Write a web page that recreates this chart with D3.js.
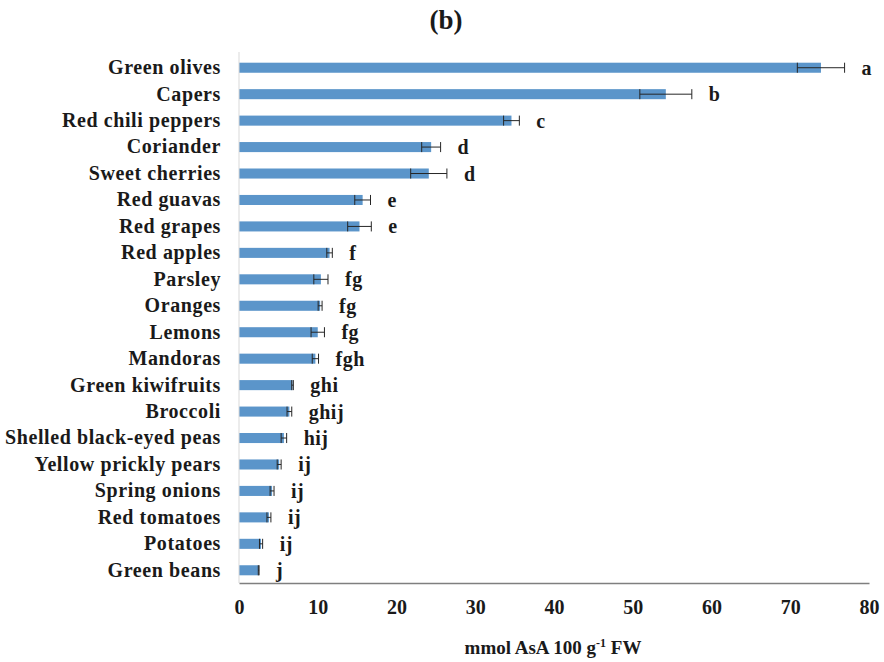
<!DOCTYPE html>
<html>
  <head>
    <meta charset="utf-8">
    <title>AsA content (b)</title>
    <script src="https://d3js.org/d3.v7.min.js"></script>
    <style>
      body { margin: 0; background: #fff; }
      text { font-family: "Liberation Serif", "Times New Roman", serif; font-weight: bold; fill: #1a1a1a; }
    </style>
  </head>
  <body>
    <svg id="chart" width="884" height="662"></svg>
    <script>
      // data
      var foods = ["Green olives", "Capers", "Red chili peppers", "Coriander", "Sweet cherries",
        "Red guavas", "Red grapes", "Red apples", "Parsley", "Oranges", "Lemons", "Mandoras",
        "Green kiwifruits", "Broccoli", "Shelled black-eyed peas", "Yellow prickly pears",
        "Spring onions", "Red tomatoes", "Potatoes", "Green beans"];
      var means = [73.9, 54.2, 34.6, 24.4, 24.1, 15.7, 15.3, 11.5, 10.4, 10.3, 10.0, 9.7,
        6.8, 6.4, 5.7, 5.1, 4.2, 3.8, 2.8, 2.5];
      var errors = [3.0, 3.3, 1.0, 1.2, 2.3, 1.0, 1.5, 0.35, 0.9, 0.25, 0.85, 0.4,
        0.1, 0.3, 0.35, 0.25, 0.25, 0.25, 0.2, 0.05];
      var letters = ["a", "b", "c", "d", "d", "e", "e", "f", "fg", "fg", "fg", "fgh",
        "ghi", "ghij", "hij", "ij", "ij", "ij", "ij", "j"];
      var xTicks = [0, 10, 20, 30, 40, 50, 60, 70, 80];

      var margin = { top: 52, right: 15, bottom: 79, left: 239 };
      var width = 884, height = 662;
      var svg = d3.select("#chart");

      var x = d3.scaleLinear()
        .domain([0, 80])
        .range([margin.left, width - margin.right]);
      var y = d3.scaleBand()
        .domain(foods)
        .range([margin.top + 2.5, height - margin.bottom + 0.5])
        .paddingInner(0.62)
        .paddingOuter(0.31);

      var data = foods.map(function(d, i) {
        return { food: d, mean: means[i], err: errors[i], letter: letters[i] };
      });

      // title
      svg.append("text")
        .attr("x", 446)
        .attr("y", 29)
        .attr("text-anchor", "middle")
        .style("font-size", "27px")
        .text("(b)");

      // bars
      svg.selectAll(".bar")
        .data(data)
        .enter().append("rect")
          .attr("class", "bar")
          .attr("x", x(0))
          .attr("y", function(d) { return y(d.food); })
          .attr("width", function(d) { return x(d.mean) - x(0); })
          .attr("height", y.bandwidth())
          .attr("fill", "#5b95ca");

      // error bars
      var eb = svg.selectAll(".err")
        .data(data)
        .enter().append("g")
          .attr("class", "err")
          .attr("stroke", "#262626")
          .attr("stroke-width", 1);
      eb.append("line")
        .attr("x1", function(d) { return x(d.mean - d.err); })
        .attr("x2", function(d) { return x(d.mean + d.err); })
        .attr("y1", function(d) { return y(d.food) + y.bandwidth() / 2; })
        .attr("y2", function(d) { return y(d.food) + y.bandwidth() / 2; });
      eb.selectAll(".cap")
        .data(function(d) { return [d.mean - d.err, d.mean + d.err].map(function(v) { return { v: v, food: d.food }; }); })
        .enter().append("line")
          .attr("x1", function(d) { return x(d.v); })
          .attr("x2", function(d) { return x(d.v); })
          .attr("y1", function(d) { return y(d.food); })
          .attr("y2", function(d) { return y(d.food) + y.bandwidth(); });

      // significance letters
      svg.selectAll(".letter")
        .data(data)
        .enter().append("text")
          .attr("class", "letter")
          .attr("x", function(d) { return x(d.mean + d.err) + 17; })
          .attr("y", function(d) { return y(d.food) + y.bandwidth() / 2 + 7; })
          .style("font-size", "20px")
          .style("letter-spacing", "0.5px")
          .text(function(d) { return d.letter; });

      // y axis
      var yAxis = d3.axisLeft(y).tickSize(0).tickPadding(18);
      var yg = svg.append("g")
        .attr("transform", "translate(" + margin.left + ",0)")
        .call(yAxis);
      yg.select(".domain").attr("stroke", "#d9d9d9").attr("d", "M0," + margin.top + "V" + (height - margin.bottom));
      yg.selectAll("text")
        .style("font-size", "20px")
        .style("letter-spacing", "0.6px")
        .style("font-family", "'Liberation Serif', serif")
        .attr("fill", "#1a1a1a");

      // x axis
      var xAxis = d3.axisBottom(x).tickValues(xTicks).tickSize(0).tickPadding(17);
      var xg = svg.append("g")
        .attr("transform", "translate(0," + (height - margin.bottom) + ")")
        .call(xAxis);
      xg.select(".domain").attr("stroke", "#7f7f7f").attr("stroke-width", 1.5);
      xg.selectAll("text")
        .style("font-size", "20px")
        .style("font-family", "'Liberation Serif', serif")
        .attr("fill", "#1a1a1a");

      // x label
      var xl = svg.append("text")
        .attr("x", 553)
        .attr("y", 654)
        .attr("text-anchor", "middle")
        .style("font-size", "19px");
      xl.append("tspan").text("mmol AsA 100 g");
      xl.append("tspan").attr("dy", -7).style("font-size", "12px").text("-1");
      xl.append("tspan").attr("dy", 7).text(" FW");
    </script>
  </body>
</html>
